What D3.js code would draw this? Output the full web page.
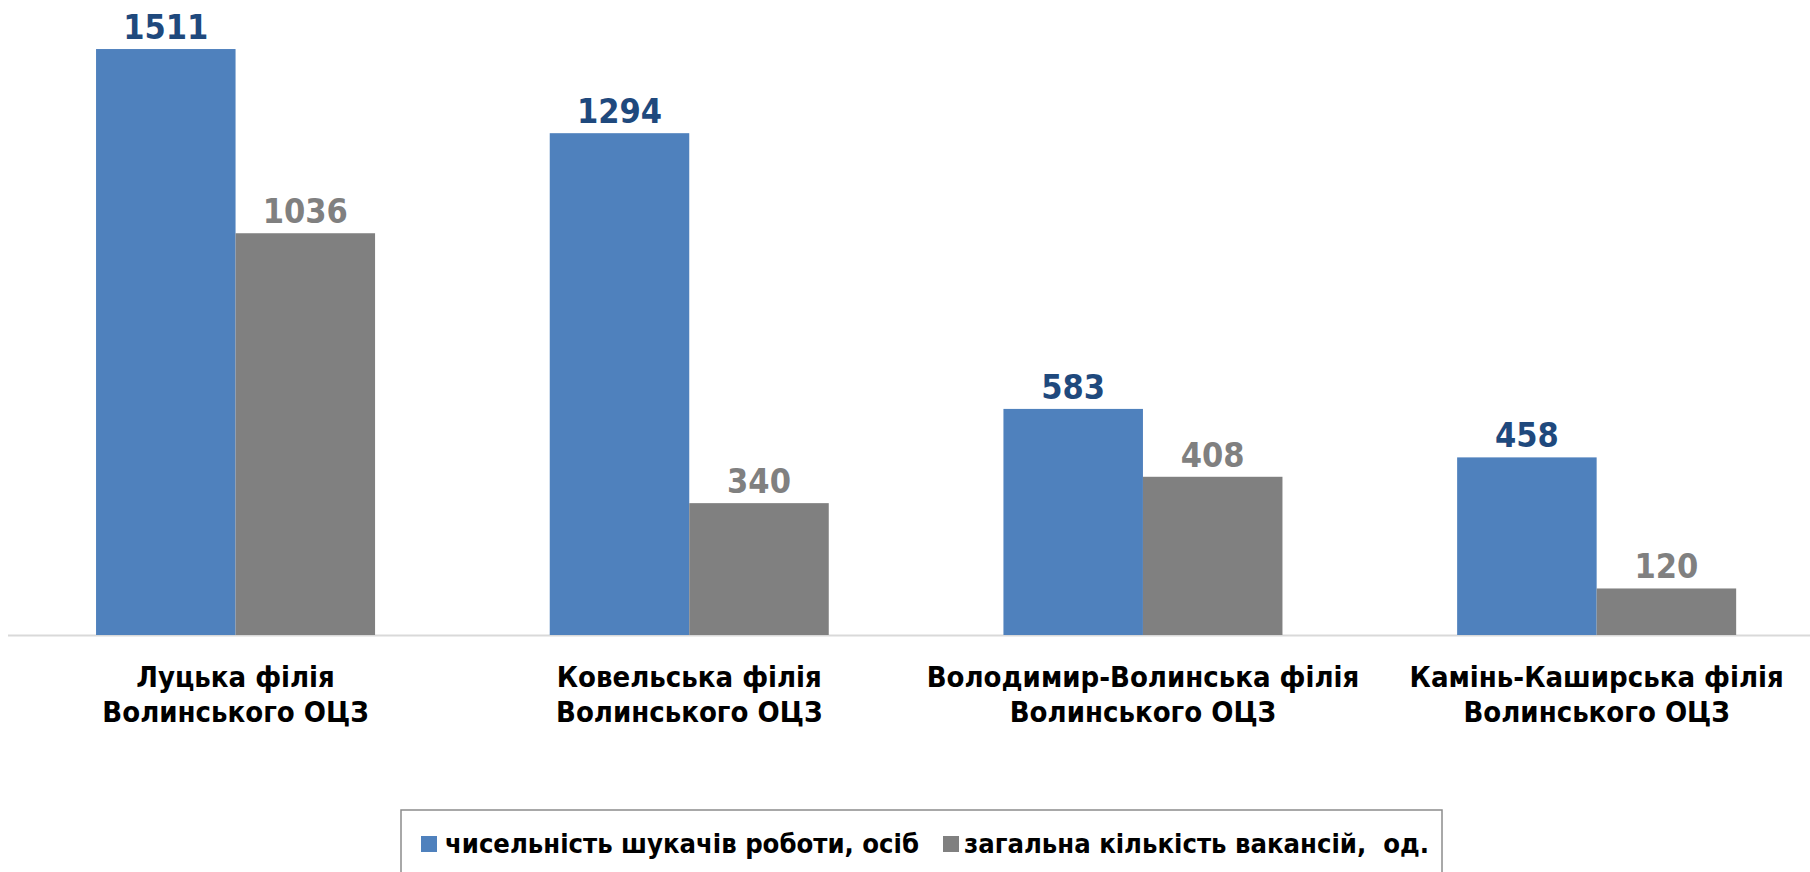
<!DOCTYPE html>
<html>
<head>
<meta charset="utf-8">
<script src="https://cdn.jsdelivr.net/npm/d3@7"></script>
<style>
  body { margin: 0; background: #fff; }
  svg { display: block; }
</style>
</head>
<body>
<div id="chart"></div>
<script>
// categories (two lines each) and the two series
const categories = [
  ["Луцька філія", "Волинського ОЦЗ"],
  ["Ковельська філія", "Волинського ОЦЗ"],
  ["Володимир-Волинська філія", "Волинського ОЦЗ"],
  ["Камінь-Каширська філія", "Волинського ОЦЗ"]
];
const seekers = [1511, 1294, 583, 458];
const vacancies = [1036, 340, 408, 120];
const seriesNames = ["чисельність шукачів роботи, осіб", "загальна кількість вакансій,  од."];

const W = 1810, H = 872;
const font = "'DejaVu Sans Condensed', 'DejaVu Sans', sans-serif";
const barColors = ["#4f81bd", "#808080"];
const labelColors = ["#1f497d", "#808080"];

const svg = d3.select("#chart").append("svg")
  .attr("width", W)
  .attr("height", H);

const keys = categories.map((c, i) => i);
const data = keys.map(i => ({ key: i, values: [seekers[i], vacancies[i]] }));

const x0 = d3.scaleBand().domain(keys).range([8.7, 1823.5]).paddingInner(0.385).paddingOuter(0.1925);
const x1 = d3.scaleBand().domain([0, 1]).range([0, x0.bandwidth()]);
const y = d3.scaleLinear().domain([0, 1600]).range([635, 635 - 1600 * 0.3878]);

// baseline
svg.append("line")
  .attr("x1", 8).attr("x2", W)
  .attr("y1", y(0) + 0.5).attr("y2", y(0) + 0.5)
  .attr("stroke", "#d9d9d9")
  .attr("stroke-width", 2);

const groups = svg.selectAll("g.grp")
  .data(data)
  .enter()
  .append("g")
  .attr("class", "grp")
  .attr("transform", d => `translate(${x0(d.key)},0)`);

groups.selectAll("rect")
  .data(d => d.values.map((v, s) => ({ v, s })))
  .enter()
  .append("rect")
  .attr("x", d => x1(d.s))
  .attr("y", d => y(d.v))
  .attr("width", x1.bandwidth())
  .attr("height", d => y(0) - y(d.v))
  .attr("fill", d => barColors[d.s]);

groups.selectAll("text.val")
  .data(d => d.values.map((v, s) => ({ v, s })))
  .enter()
  .append("text")
  .attr("class", "val")
  .attr("x", d => x1(d.s) + x1.bandwidth() / 2)
  .attr("y", d => y(d.v) - 10)
  .attr("text-anchor", "middle")
  .attr("font-family", font)
  .attr("font-weight", "bold")
  .attr("font-size", 34)
  .attr("fill", d => labelColors[d.s])
  .text(d => d.v);

// category labels
groups.each(function (d) {
  const t = d3.select(this).append("text")
    .attr("text-anchor", "middle")
    .attr("font-family", font)
    .attr("font-weight", "bold")
    .attr("font-size", 29)
    .attr("fill", "#000");
  categories[d.key].forEach((line, i) => {
    t.append("tspan")
      .attr("x", x0.bandwidth() / 2)
      .attr("y", 687 + i * 35)
      .text(line);
  });
});

// legend
const legend = svg.append("g");
legend.append("rect")
  .attr("x", 401).attr("y", 810)
  .attr("width", 1041).attr("height", 80)
  .attr("fill", "#fff")
  .attr("stroke", "#8c8c8c")
  .attr("stroke-width", 1.5);

const legendPos = [{ sq: 421, tx: 445, w: 474 }, { sq: 943, tx: 964, w: 465 }];
seriesNames.forEach((name, i) => {
  legend.append("rect")
    .attr("x", legendPos[i].sq).attr("y", 836)
    .attr("width", 16).attr("height", 16)
    .attr("fill", barColors[i]);
  legend.append("text")
    .attr("x", legendPos[i].tx)
    .attr("y", 853)
    .attr("font-family", font)
    .attr("font-weight", "bold")
    .attr("font-size", 27)
    .attr("textLength", legendPos[i].w)
    .attr("lengthAdjust", "spacingAndGlyphs")
    .attr("xml:space", "preserve")
    .style("white-space", "pre")
    .attr("fill", "#000")
    .text(name);
});
</script>
</body>
</html>
